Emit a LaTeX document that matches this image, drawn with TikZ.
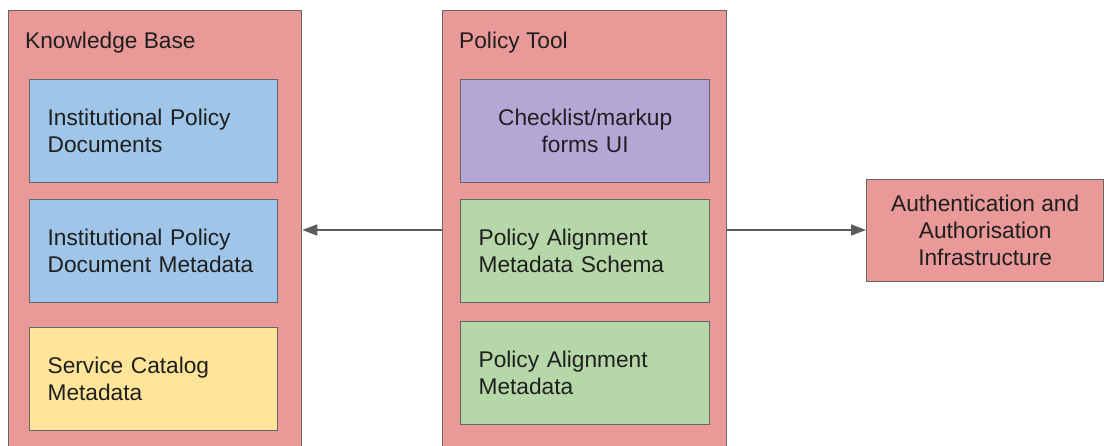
\documentclass[tikz,border=0pt]{standalone}
\usepackage{fontspec}
\setmainfont{Liberation Sans}
\usetikzlibrary{arrows.meta}
\definecolor{redf}{HTML}{EA9999}
\definecolor{bluef}{HTML}{9FC5E8}
\definecolor{purplef}{HTML}{B4A7D6}
\definecolor{greenf}{HTML}{B6D7A8}
\definecolor{yellowf}{HTML}{FFE599}
\definecolor{edge}{HTML}{666666}
\definecolor{txt}{HTML}{1F1F1F}
\begin{document}
\begin{tikzpicture}[x=1pt,y=-1pt,
  every node/.style={font=\fontsize{22.7}{27}\selectfont, text=txt},
  outerbox/.style={draw=edge, line width=1.3pt, fill=redf, anchor=north west, inner sep=0pt},
  innerbox/.style={draw=edge, line width=1.3pt, anchor=north west, minimum height=103pt, text width=212pt, inner xsep=18pt, inner ysep=0pt, align=left},
  title/.style={anchor=base west, inner sep=0pt},
  arr/.style={draw=edge!90!black, line width=1.5pt, -{Triangle[length=15pt,width=11pt]}}]
\useasboundingbox (0,0) rectangle (1104,446);
\clip (0,0) rectangle (1104,446);
\fill[white] (0,0) rectangle (1104,446);
% outer containers
\node[outerbox, minimum width=293pt, minimum height=450pt] (kb) at (8,10) {};
\node[outerbox, minimum width=284pt, minimum height=450pt] (pt) at (442,10) {};
\node[title] (kbt) at (25,49) {Knowledge Base};
\node[title] (ptt) at (459,49) {Policy Tool};
% knowledge base items
\node[innerbox, fill=bluef] (ipd) at (29,79) {Institutional Policy\\Documents};
\node[innerbox, fill=bluef] (ipdm) at (29,199) {Institutional Policy\\Document Metadata};
\node[innerbox, fill=yellowf] (scm) at (29,327) {Service Catalog\\Metadata};
% policy tool items
\node[innerbox, fill=purplef, align=center, text width=213pt] (ui) at (460,79) {Checklist/markup\\forms UI};
\node[innerbox, fill=greenf, text width=213pt] (pams) at (460,199) {Policy Alignment\\Metadata Schema};
\node[innerbox, fill=greenf, text width=213pt] (pam) at (460,321) {Policy Alignment\\Metadata};
% auth
\node[draw=edge, line width=1.3pt, fill=redf, anchor=north west, minimum width=237pt, minimum height=102pt, align=center, inner sep=0pt] (auth) at (866,179) {Authentication and\\Authorisation\\Infrastructure};
% arrows
\coordinate (ay) at (0,230);
\draw[arr] (pt.west |- ay) -- (kb.east |- ay);
\draw[arr] (pt.east |- ay) -- (auth.west |- ay);
\end{tikzpicture}
\end{document}
